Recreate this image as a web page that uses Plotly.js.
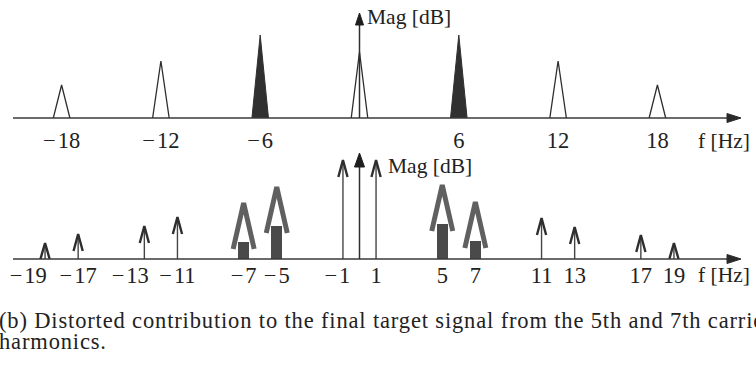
<!DOCTYPE html>
<html>
<head>
<meta charset="utf-8">
<script src="https://cdn.plot.ly/plotly-3.0.1.min.js"></script>
<style>
  html, body { margin: 0; padding: 0; background: #fff; }
  #chart { width: 756px; height: 373px; }
  /* caption lines are set a little looser, like the typeset figure caption */
  #chart g.annotation[data-index="4"] text,
  #chart g.annotation[data-index="5"] text { letter-spacing: 0.85px; }
</style>
</head>
<body>
<div id="chart"></div>
<script>
// ---- Spectrum of the modulated carrier (upper panel) ----
const carrierFreq = [-6, 6];               // carrier lines, drawn solid
const carrierMag  = [8.3, 8.3];
const sideFreq    = [-18, -12, 0, 12, 18]; // other spectral lines, drawn hollow
const sideMag     = [3.3, 5.7, 6.6, 5.7, 3.3];
const topTicks    = [-18, -12, -6, 6, 12, 18];

// ---- Distorted contribution (lower panel) ----
const baseFreq    = [-1, 1];               // thin arrows next to the origin
const baseMag     = [9.9, 9.9];
const harmFreq    = [-19, -17, -13, -11, 11, 13, 17, 19];
const harmMag     = [1.6, 2.5, 3.3, 4.2, 4.1, 3.2, 2.4, 1.6];
const distFreq    = [-7, -5, 5, 7];        // 5th and 7th carrier harmonics
const distMag     = [5.6, 7.2, 7.4, 5.7];
const bottomTicks = [-19, -17, -13, -11, -7, -5, -1, 1, 5, 7, 11, 13, 17, 19];

// ---- Geometry ----
const W = 756, H = 373;
const PX_PER_HZ = 16.55, ZERO_PX = 359.5;
const UNIT_PX = 10;                 // pixels per magnitude unit
const TOP_AXIS_PX = 118, BOT_AXIS_PX = 259, BOT_TOP_PX = 141;
const xRange = [-ZERO_PX / PX_PER_HZ, (W - ZERO_PX) / PX_PER_HZ];
const hz = px => px / PX_PER_HZ;
const mu = px => px / UNIT_PX;
const py = px => (H - px) / H;      // pixel row -> paper fraction

const INK = '#2e2e2e';
const SERIF = 'Liberation Serif, Times New Roman, serif';
const minus = v => (v < 0 ? '\u2212\u200A' + Math.abs(v) : String(v));
// crowded labels on the lower axis are nudged left with trailing spacing
const labelNudge = { '-19': '\u2003\u2002', '-13': '\u2003\u2005', '-1': '\u2002' };

function triangles(freq, mag, half) {
  const x = [], y = [];
  freq.forEach((f, i) => { x.push(f - half, f, f + half, null); y.push(0, mag[i], 0, null); });
  return { x, y };
}
function stems(freq, mag) {
  const x = [], y = [];
  freq.forEach((f, i) => { x.push(f, f, null); y.push(0, mag[i], null); });
  return { x, y };
}
function chevrons(freq, mag, half, drop) {
  const x = [], y = [];
  freq.forEach((f, i) => {
    x.push(f - half, f, f + half, null);
    y.push(Math.max(mag[i] - drop, 0), mag[i], Math.max(mag[i] - drop, 0), null);
  });
  return { x, y };
}

const sideTri = triangles(sideFreq, sideMag, 0.5);
const carTri = triangles(carrierFreq, carrierMag, 0.5);
const thinFreq = baseFreq.concat(harmFreq);
const thinMag = baseMag.concat(harmMag);
const thinStem = stems(thinFreq, thinMag);
const thinHeads = chevrons(thinFreq, thinMag, hz(4.6), mu(17));
const HEAD_GAP = mu(39);
const bigHeads = chevrons(distFreq, distMag, hz(10.5), mu(46));

const traces = [
  { type: 'scatter', mode: 'lines', x: carTri.x, y: carTri.y, fill: 'toself',
    fillcolor: '#303030', line: { color: '#303030', width: 1 }, xaxis: 'x', yaxis: 'y', hoverinfo: 'skip' },
  { type: 'scatter', mode: 'lines', x: sideTri.x, y: sideTri.y,
    line: { color: INK, width: 1.3 }, xaxis: 'x', yaxis: 'y', hoverinfo: 'skip' },
  { type: 'bar', x: distFreq, y: distMag.map(m => m - HEAD_GAP), width: 0.68,
    marker: { color: '#4a4a4a', line: { width: 0 } }, xaxis: 'x2', yaxis: 'y2', hoverinfo: 'skip' },
  { type: 'scatter', mode: 'lines', x: bigHeads.x, y: bigHeads.y,
    line: { color: '#606060', width: 5 }, xaxis: 'x2', yaxis: 'y2', hoverinfo: 'skip' },
  { type: 'scatter', mode: 'lines', x: thinStem.x, y: thinStem.y,
    line: { color: '#444', width: 1.4 }, xaxis: 'x2', yaxis: 'y2', hoverinfo: 'skip' },
  { type: 'scatter', mode: 'lines', x: thinHeads.x, y: thinHeads.y,
    line: { color: INK, width: 2.4 }, xaxis: 'x2', yaxis: 'y2', hoverinfo: 'skip' }
];

const axisX0 = 13 / W, axisX1 = 727 / W, tipX = 741 / W;
function hArrow(rowPx) {
  const y = py(rowPx), dy = 4.5 / H;
  return [
    { type: 'line', xref: 'paper', yref: 'paper', x0: axisX0, x1: axisX1, y0: y, y1: y,
      line: { color: '#3a3a3a', width: 1.5 } },
    { type: 'path', xref: 'paper', yref: 'paper',
      path: `M ${axisX1} ${y + dy} L ${tipX} ${y} L ${axisX1} ${y - dy} Z`,
      fillcolor: '#2a2a2a', line: { color: '#2a2a2a', width: 1 } }
  ];
}
function vArrow(xr, yr, tip, headLen, headHalfPx) {
  const b = tip - mu(headLen), w = hz(headHalfPx);
  return [
    { type: 'line', xref: xr, yref: yr, x0: 0, x1: 0, y0: 0, y1: b, line: { color: INK, width: 1.5 } },
    { type: 'path', xref: xr, yref: yr, path: `M ${-w} ${b} L 0 ${tip} L ${w} ${b} Z`,
      fillcolor: '#1e1e1e', line: { color: '#1e1e1e', width: 1 } }
  ];
}

const shapes = [
  ...hArrow(TOP_AXIS_PX), ...hArrow(BOT_AXIS_PX),
  ...vArrow('x', 'y', mu(TOP_AXIS_PX - 13), 12, 4),
  ...vArrow('x2', 'y2', mu(BOT_AXIS_PX - 153), 14, 5)
];

const label = (text, xPx, yPx, size) => ({
  text, xref: 'paper', yref: 'paper', x: xPx / W, y: py(yPx), xanchor: 'left', yanchor: 'middle',
  align: 'left', showarrow: false, font: { family: SERIF, size, color: '#222' }
});

const annotations = [
  label('Mag [dB]', 365, 17, 21.5),
  label('Mag [dB]', 386, 166, 21.5),
  label('f [Hz]', 696, 141, 21.5),
  label('f [Hz]', 696, 275, 21.5),
  label('(b) Distorted contribution to the final target signal from the 5th and 7th carrier', -3, 320, 22.5),
  label('harmonics.', -3.5, 341, 22.5)
];

function xAxis(ticks, anchor, standoff, nudge) {
  return {
    domain: [0, 1], range: xRange, anchor, showgrid: false, zeroline: false, showline: false,
    ticks: '', tickvals: ticks, ticktext: ticks.map(v => minus(v) + ((nudge && nudge[String(v)]) || '')),
    ticklabelstandoff: standoff, tickangle: 0,
    tickfont: { family: SERIF, size: 22.5, color: '#222' }, fixedrange: true
  };
}

const layout = {
  width: W, height: H, margin: { l: 0, r: 0, t: 0, b: 0 },
  paper_bgcolor: '#fff', plot_bgcolor: 'rgba(0,0,0,0)', showlegend: false,
  xaxis: xAxis(topTicks, 'y', 6),
  yaxis: { domain: [py(TOP_AXIS_PX), 1], range: [0, mu(TOP_AXIS_PX)], visible: false, fixedrange: true },
  xaxis2: xAxis(bottomTicks, 'y2', 0, labelNudge),
  yaxis2: { domain: [py(BOT_AXIS_PX), py(BOT_TOP_PX)], range: [0, mu(BOT_AXIS_PX - BOT_TOP_PX)],
            visible: false, fixedrange: true },
  bargap: 0, shapes, annotations
};

Plotly.newPlot('chart', traces, layout, { staticPlot: true, displayModeBar: false });
</script>
</body>
</html>
